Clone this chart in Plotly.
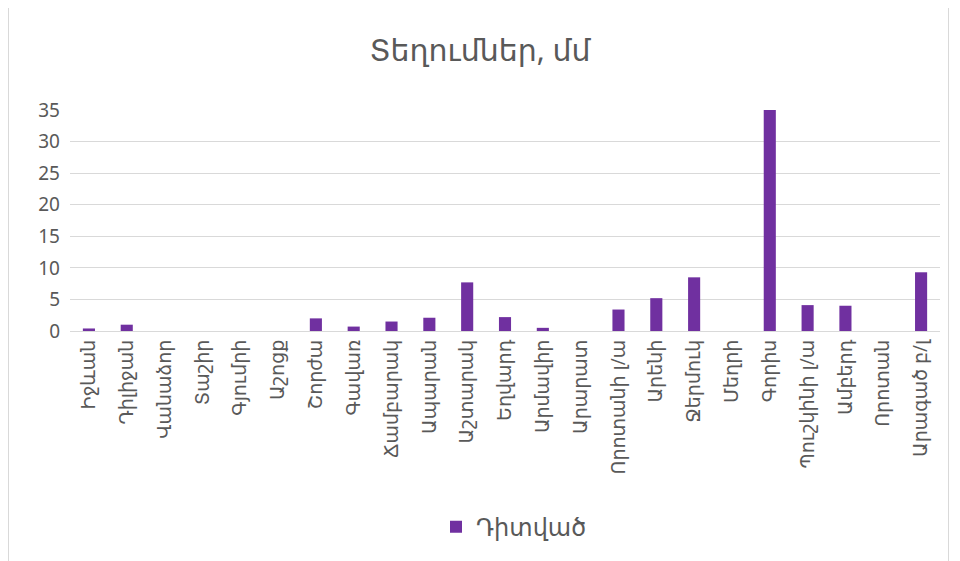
import plotly.graph_objects as go

categories = [
    "Իջևան", "Դիլիջան", "Վանաձոր", "Տաշիր", "Գյումրի", "Աշոցք",
    "Շորժա", "Գավառ", "Ճամբարակ", "Ապարան", "Աշտարակ", "Եղվարդ",
    "Արմավիր", "Արարատ", "Որոտանի լ/ա", "Արենի", "Ջերմուկ", "Մեղրի",
    "Գորիս", "Պուշկինի լ/ա", "Ամբերդ", "Որոտան", "Արագած բ/լ",
]
values = [0.4, 1.0, 0, 0, 0, 0, 2.0, 0.7, 1.5, 2.1, 7.7, 2.2,
          0.5, 0, 3.4, 5.2, 8.5, 0, 35.0, 4.1, 4.0, 0, 9.3]
series_name = "Դիտված"
title_text = "Տեղումներ, մմ"
y_ticks = [0, 5, 10, 15, 20, 25, 30, 35]

FONT = "Noto Sans, DejaVu Sans, sans-serif"
GREY = "#595959"

# page body has an 8px offset; figure is sized so content lands where the reference has it
W, H = 952, 553
L, R, T, B = 62, 20, 102, 228
PW, PH = W - L - R, H - T - B

fig = go.Figure()
fig.add_trace(go.Bar(
    x=categories, y=values, name=series_name,
    marker=dict(color="#7030A0", line=dict(width=0)),
    showlegend=True,
))

fig.update_layout(
    width=W, height=H,
    margin=dict(l=L, r=R, t=T, b=B),
    paper_bgcolor="white", plot_bgcolor="white",
    bargap=0.68,
    font=dict(family=FONT, color=GREY),
    title=dict(text=title_text, x=0.5 + (480 - 8 - W / 2) / W, xanchor="center",
               y=1 - 42 / H, yanchor="middle",
               font=dict(size=30, color=GREY, family=FONT)),
    legend=dict(orientation="h", x=(514 - 8 - L) / PW, xanchor="center",
                y=(T + PH - (531 - 8)) / PH, yanchor="middle",
                font=dict(size=24, color=GREY, family=FONT)),
    shapes=[dict(type="rect", xref="paper", yref="paper",
                 x0=(0.5 - L) / PW, x1=(940.5 - L) / PW,
                 y0=-(B + 20) / PH, y1=(T + PH + 10) / PH,
                 line=dict(color="#D9D9D9", width=1), fillcolor="rgba(0,0,0,0)",
                 layer="below")],
)
fig.update_xaxes(
    type="category", tickangle=-90, showgrid=False,
    showline=True, linecolor="#D9D9D9", linewidth=1.3,
    ticks="", tickfont=dict(size=19, color=GREY, family=FONT),
)
fig.update_yaxes(
    range=[0, 35], tickvals=y_ticks, showgrid=True, gridcolor="#D9D9D9",
    gridwidth=1.3, zeroline=False, showline=False, ticks="",
    ticklabelstandoff=9,
    tickfont=dict(size=19, color=GREY, family=FONT),
)

fig.write_html("out.html")
